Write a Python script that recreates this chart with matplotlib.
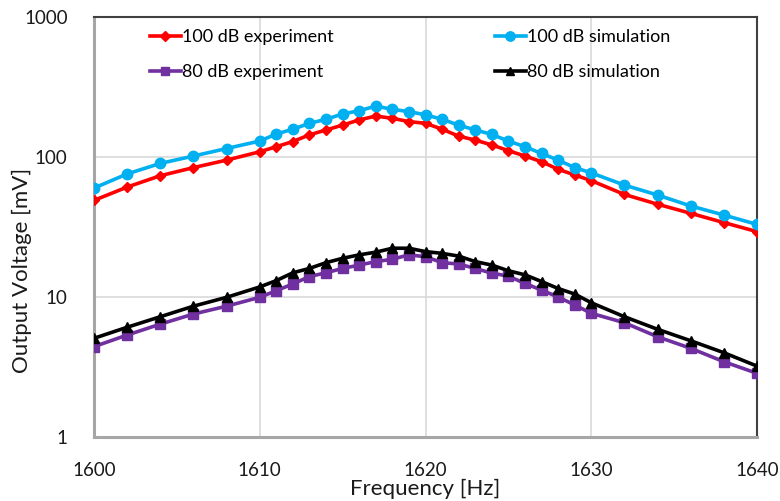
import matplotlib
matplotlib.use('Agg')
from matplotlib import pyplot as plt

plt.rcParams['font.family'] = ['Lato', 'DejaVu Sans']

# Frequency sweep [Hz]: coarse at the ends, 1 Hz steps around resonance
freq = [1600, 1602, 1604, 1606, 1608, 1610,
        1611, 1612, 1613, 1614, 1615, 1616, 1617, 1618, 1619, 1620,
        1621, 1622, 1623, 1624, 1625, 1626, 1627, 1628, 1629, 1630,
        1632, 1634, 1636, 1638, 1640]

# Output voltage [mV]
exp_100 = [49, 61, 73.5, 84, 95, 109,
           118.5, 129, 144, 156, 169, 184, 196, 189, 179, 174,
           158, 141, 132, 122, 111, 101.6, 92.6, 81.7, 74.4, 67.8,
           54, 46, 39.6, 34, 29.3]
sim_100 = [60, 75.7, 90, 101.6, 115, 130,
           146, 158, 174, 186, 203, 214, 231, 219, 211, 200,
           186, 169, 156, 145, 130, 118.5, 106, 95, 84, 77,
           63, 53.5, 44.7, 38.5, 33]
exp_80 = [4.42, 5.35, 6.4, 7.56, 8.6, 9.95,
          11.1, 12.4, 14.0, 14.9, 16.0, 16.9, 17.9, 18.6, 20.0, 19.4,
          17.6, 17.2, 16.0, 14.8, 14.1, 12.5, 11.2, 10.0, 8.77, 7.65,
          6.55, 5.2, 4.3, 3.45, 2.85]
sim_80 = [5.07, 6.08, 7.23, 8.6, 9.95, 11.8,
          13.1, 14.9, 16.0, 17.6, 18.9, 20.0, 20.9, 22.3, 22.3, 21.1,
          20.5, 19.6, 17.9, 16.9, 15.4, 14.4, 12.9, 11.5, 10.5, 9.1,
          7.23, 5.88, 4.87, 4.0, 3.21]

fig = plt.figure(figsize=(7.8, 5.01), dpi=100)
ax = fig.add_axes([94 / 780, 64 / 501, 663 / 780, 420 / 501])

l1, = ax.plot(freq, exp_100, color='#FF0000', lw=2.6, marker='D', ms=5.5,
              label='100 dB experiment', zorder=3)
l2, = ax.plot(freq, sim_100, color='#00B0F0', lw=2.6, marker='o', ms=7.5,
              label='100 dB simulation', zorder=4)
l3, = ax.plot(freq, exp_80, color='#7030A0', lw=2.6, marker='s', ms=6.5,
              label='80 dB experiment', zorder=3)
l4, = ax.plot(freq, sim_80, color='#000000', lw=2.6, marker='^', ms=7,
              label='80 dB simulation', zorder=4)

ax.set_yscale('log')
ax.set_xlim(1600, 1640)
ax.set_ylim(1, 1000)
ax.set_xticks([1600, 1610, 1620, 1630, 1640])
ax.set_yticks([1, 10, 100, 1000])
ax.set_yticklabels(['1', '10', '100', '1000'])
ax.minorticks_off()
ax.tick_params(axis='both', length=0, labelsize=13.5, colors='#1a1a1a')
ax.tick_params(axis='x', pad=18)
ax.tick_params(axis='y', pad=19)
ax.grid(color='#D9D9D9', lw=1.2, zorder=0)

ax.spines['top'].set_color('#404040')
ax.spines['right'].set_color('#404040')
ax.spines['top'].set_linewidth(1.5)
ax.spines['right'].set_linewidth(1.5)
ax.spines['left'].set_color('#A6A6A6')
ax.spines['bottom'].set_color('#A6A6A6')
ax.spines['left'].set_linewidth(2.2)
ax.spines['bottom'].set_linewidth(2.2)

ax.set_xlabel('Frequency [Hz]', fontsize=16, color='#1a1a1a')
ax.xaxis.set_label_coords(0.5, -42 / 420)
ax.set_ylabel('Output Voltage [mV]', fontsize=16, color='#1a1a1a')
ax.yaxis.set_label_coords(-62 / 663, 167 / 420)

ax.legend(handles=[l1, l3, l2, l4], ncol=2, frameon=False, fontsize=13,
          loc='upper left', bbox_to_anchor=(150 / 780, 1 - 29 / 501),
          bbox_transform=fig.transFigure, borderpad=0, borderaxespad=0,
          handlelength=1.7, handletextpad=0.1, columnspacing=8.9,
          labelspacing=1.05, markerscale=0.9)

fig.savefig('out.png', dpi=100, facecolor='white')
